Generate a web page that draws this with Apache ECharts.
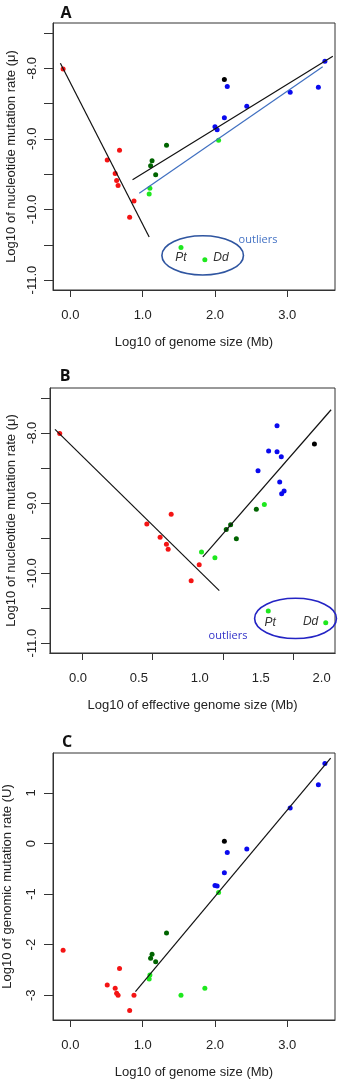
<!DOCTYPE html>
<html>
<head>
<meta charset="utf-8">
<script src="https://cdn.jsdelivr.net/npm/echarts@6/dist/echarts.min.js"></script>
<style>
  html, body { margin: 0; padding: 0; background: #fff; }
  #main { width: 338px; height: 1089px; }
</style>
</head>
<body>
<div id="main"></div>
<script>
// log10 genome size (Mb), log10 effective genome size, log10 mu, log10 U
var redGenome = [-0.10, 0.68, 0.51, 0.62, 0.64, 0.66, 0.88, 0.82];
var redEffective = [-0.15, 0.765, 0.565, 0.674, 0.726, 0.74, 0.995, 0.929];
var redMu = [-8.01, -9.16, -9.30, -9.49, -9.59, -9.66, -9.88, -10.11];
var redU = [-2.11, -2.47, -2.80, -2.86, -2.96, -3.00, -3.00, -3.30];

var darkGenome = [1.33, 1.13, 1.11, 1.18];
var darkEffective = [1.464, 1.253, 1.217, 1.30];
var darkMu = [-9.09, -9.31, -9.38, -9.51];
var darkU = [-1.77, -2.19, -2.27, -2.34];

var lightGenome = [2.05, 1.10, 1.09];
var lightEffective = [1.53, 1.014, 1.124];
var lightMu = [-9.02, -9.70, -9.78];
var lightU = [-0.97, -2.60, -2.68];

var outlierNames = ['Pt', 'Dd'];
var outlierGenome = [1.53, 1.86];
var outlierEffective = [1.562, 2.034];
var outlierMu = [-10.54, -10.71];
var outlierU = [-3.00, -2.86];

var blueGenome = [2.17, 3.52, 3.04, 3.43, 2.44, 2.13, 2.00, 2.03];
var blueEffective = [1.565, 1.634, 1.669, 1.634, 1.478, 1.656, 1.692, 1.672];
var blueMu = [-8.26, -7.90, -8.34, -8.27, -8.54, -8.70, -8.83, -8.87];
var blueU = [-0.18, 1.58, 0.70, 1.16, -0.11, -0.58, -0.83, -0.84];

var blackGenome = [2.13];
var blackEffective = [1.941];
var blackMu = [-8.16];
var blackU = [0.045];

// fitted lines (end points)
var fitARed = [[-0.138, -7.93], [1.09, -10.39]];
var fitAAll = [[0.86, -9.58], [3.63, -7.83]];
var fitANoOut = [[0.953, -9.77], [3.49, -7.98]];
var fitBRed = [[-0.189, -7.95], [1.16, -10.25]];
var fitBAll = [[1.025, -9.77], [2.078, -7.67]];
var fitC = [[0.90, -2.93], [3.60, 1.69]];

// outlier ellipses: center x, center y, radius x, radius y
var ellipseA = [1.83, -10.65, 0.564, 0.278];
var ellipseB = [1.786, -10.647, 0.336, 0.287];

// axis ticks
var muTicks = [-11, -10.5, -10, -9.5, -9, -8.5, -8, -7.5];
var muLabels = [-11, -10, -9, -8];
var genomeTicks = [0, 1, 2, 3];
var effLabels = [0, 0.5, 1, 1.5, 2];
var effTicks = [0, 0.5, 1, 1.5];
var uTicks = [-3, -2, -1, 0, 1];

var RED = '#f41414', DARK = '#006400', LIGHT = '#1ee81e', BLUE = '#0a0aee', BLACK = '#000';
var FONT = 'Liberation Sans';
var INK = '#222';

function pairs(xs, ys) {
    return xs.map(function (x, i) { return [x, ys[i]]; });
}

function dots(xi, xs, ys, color) {
    return {
        type: 'scatter', xAxisIndex: xi, yAxisIndex: xi,
        symbolSize: 5, silent: true,
        itemStyle: { color: color, opacity: 1 },
        data: pairs(xs, ys)
    };
}

function fit(xi, pts, color) {
    return {
        type: 'line', xAxisIndex: xi, yAxisIndex: xi,
        showSymbol: false, silent: true,
        lineStyle: { color: color, width: 1.2 },
        data: pts
    };
}

function ellipse(xi, e, color) {
    return {
        type: 'custom', xAxisIndex: xi, yAxisIndex: xi, silent: true, clip: false,
        renderItem: function (params, api) {
            var c = api.coord([api.value(0), api.value(1)]);
            var s = api.size([api.value(2), api.value(3)]);
            return {
                type: 'ellipse',
                shape: { cx: c[0], cy: c[1], rx: s[0], ry: s[1] },
                style: { fill: 'none', stroke: color, lineWidth: 1.6 }
            };
        },
        encode: { x: 0, y: 1 },
        data: [e]
    };
}

function outliers(xi, xs, ys, places) {
    return {
        type: 'scatter', xAxisIndex: xi, yAxisIndex: xi,
        symbolSize: 5, silent: true,
        itemStyle: { color: LIGHT, opacity: 1 },
        data: xs.map(function (x, i) {
            return {
                name: outlierNames[i], value: [x, ys[i]],
                label: Object.assign({
                    show: true, formatter: '{b}', fontFamily: FONT,
                    fontStyle: 'italic', fontSize: 12, color: '#333'
                }, places[i])
            };
        })
    };
}

function xAxis(grid, min, max, labels, ticks, name) {
    return {
        type: 'value', gridIndex: grid, min: min, max: max, position: 'bottom',
        name: name, nameLocation: 'middle', nameGap: 46,
        nameTextStyle: { fontFamily: FONT, fontSize: 13, color: INK },
        splitLine: { show: false },
        axisLine: { show: true, onZero: false, lineStyle: { color: '#333', width: 1 } },
        axisTick: ticks ? { show: true, length: 7, customValues: ticks, lineStyle: { color: '#333' } } : { show: false },
        axisLabel: labels ? {
            show: true, customValues: labels, margin: 19,
            fontFamily: FONT, fontSize: 13, color: INK,
            formatter: function (v) { return v.toFixed(1); }
        } : { show: false }
    };
}

function yAxis(grid, min, max, labels, ticks, name, gap, margin, fmt) {
    return {
        type: 'value', gridIndex: grid, min: min, max: max, position: 'left',
        name: name, nameLocation: 'middle', nameGap: gap,
        nameTextStyle: { fontFamily: FONT, fontSize: 13, color: INK },
        splitLine: { show: false },
        axisLine: { show: true, onZero: false, lineStyle: { color: '#333', width: 1 } },
        axisTick: { show: true, length: 9, customValues: ticks, lineStyle: { color: '#333' } },
        axisLabel: {
            show: true, customValues: labels, rotate: 90, margin: margin,
            fontFamily: FONT, fontSize: 13, color: INK,
            formatter: fmt
        }
    };
}

var oneDec = function (v) { return v.toFixed(1); };
var noDec = function (v) { return String(Math.round(v)); };

var myChart = echarts.init(document.getElementById('main'));

var gridBase = { show: true, borderColor: '#333', borderWidth: 1, containLabel: false, outerBoundsMode: 'none' };

myChart.setOption({
    animation: false,
    grid: [
        Object.assign({ left: 53, top: 23, width: 282, height: 267 }, gridBase),
        Object.assign({ left: 50, top: 388, width: 285, height: 265 }, gridBase),
        Object.assign({ left: 53, top: 753, width: 282, height: 267 }, gridBase)
    ],
    xAxis: [
        xAxis(0, -0.24, 3.66, genomeTicks, genomeTicks, 'Log10 of genome size (Mb)'),
        xAxis(1, -0.23, 2.11, effLabels, null, 'Log10 of effective genome size (Mb)'),
        xAxis(2, -0.24, 3.66, genomeTicks, genomeTicks, 'Log10 of genome size (Mb)'),
        xAxis(1, -0.23, 1.797, null, effTicks, '')
    ],
    yAxis: [
        yAxis(0, -11.14, -7.36, muLabels, muTicks, 'Log10 of nucleotide mutation rate (\u03bc)', 34, 14, oneDec),
        yAxis(1, -11.14, -7.36, muLabels, muTicks, 'Log10 of nucleotide mutation rate (\u03bc)', 32, 11, oneDec),
        yAxis(2, -3.49, 1.79, uTicks, uTicks, 'Log10 of genomic mutation rate (U)', 39, 15, noDec)
    ],
    graphic: [
        { type: 'text', x: 66, y: 13, style: { text: 'A', font: 'bold 16px "Open Sans"', fill: '#111', align: 'center', verticalAlign: 'middle' } },
        { type: 'text', x: 65, y: 376, style: { text: 'B', font: 'bold 16px "Open Sans"', fill: '#111', align: 'center', verticalAlign: 'middle' } },
        { type: 'text', x: 67, y: 742, style: { text: 'C', font: 'bold 16px "Open Sans"', fill: '#111', align: 'center', verticalAlign: 'middle' } },
        { type: 'text', x: 258, y: 240, style: { text: 'outliers', font: '11px "Open Sans"', fill: '#4472c4', align: 'center', verticalAlign: 'middle' } },
        { type: 'text', x: 228, y: 636, style: { text: 'outliers', font: '11px "Open Sans"', fill: '#3232c8', align: 'center', verticalAlign: 'middle' } }
    ],
    series: [
        // A
        fit(0, fitARed, '#111'),
        fit(0, fitAAll, '#111'),
        fit(0, fitANoOut, '#3f6fc0'),
        ellipse(0, ellipseA, '#2f55a0'),
        dots(0, redGenome, redMu, RED),
        dots(0, darkGenome, darkMu, DARK),
        dots(0, lightGenome, lightMu, LIGHT),
        dots(0, blueGenome, blueMu, BLUE),
        dots(0, blackGenome, blackMu, BLACK),
        outliers(0, outlierGenome, outlierMu, [
            { position: 'bottom', distance: 2 },
            { position: 'right', distance: 6, offset: [0, -2] }
        ]),
        // B
        fit(1, fitBRed, '#111'),
        fit(1, fitBAll, '#111'),
        ellipse(1, ellipseB, '#2424c4'),
        dots(1, redEffective, redMu, RED),
        dots(1, darkEffective, darkMu, DARK),
        dots(1, lightEffective, lightMu, LIGHT),
        dots(1, blueEffective, blueMu, BLUE),
        dots(1, blackEffective, blackMu, BLACK),
        outliers(1, outlierEffective, outlierMu, [
            { position: 'bottom', distance: 3, offset: [2, 0] },
            { position: 'left', distance: 5, offset: [0, -1] }
        ]),
        // C
        fit(2, fitC, '#111'),
        dots(2, redGenome, redU, RED),
        dots(2, darkGenome, darkU, DARK),
        dots(2, lightGenome.concat(outlierGenome), lightU.concat(outlierU), LIGHT),
        dots(2, blueGenome, blueU, BLUE),
        dots(2, blackGenome, blackU, BLACK)
    ]
});

window.onresize = function () {
    myChart.resize();
};
</script>
</body>
</html>
